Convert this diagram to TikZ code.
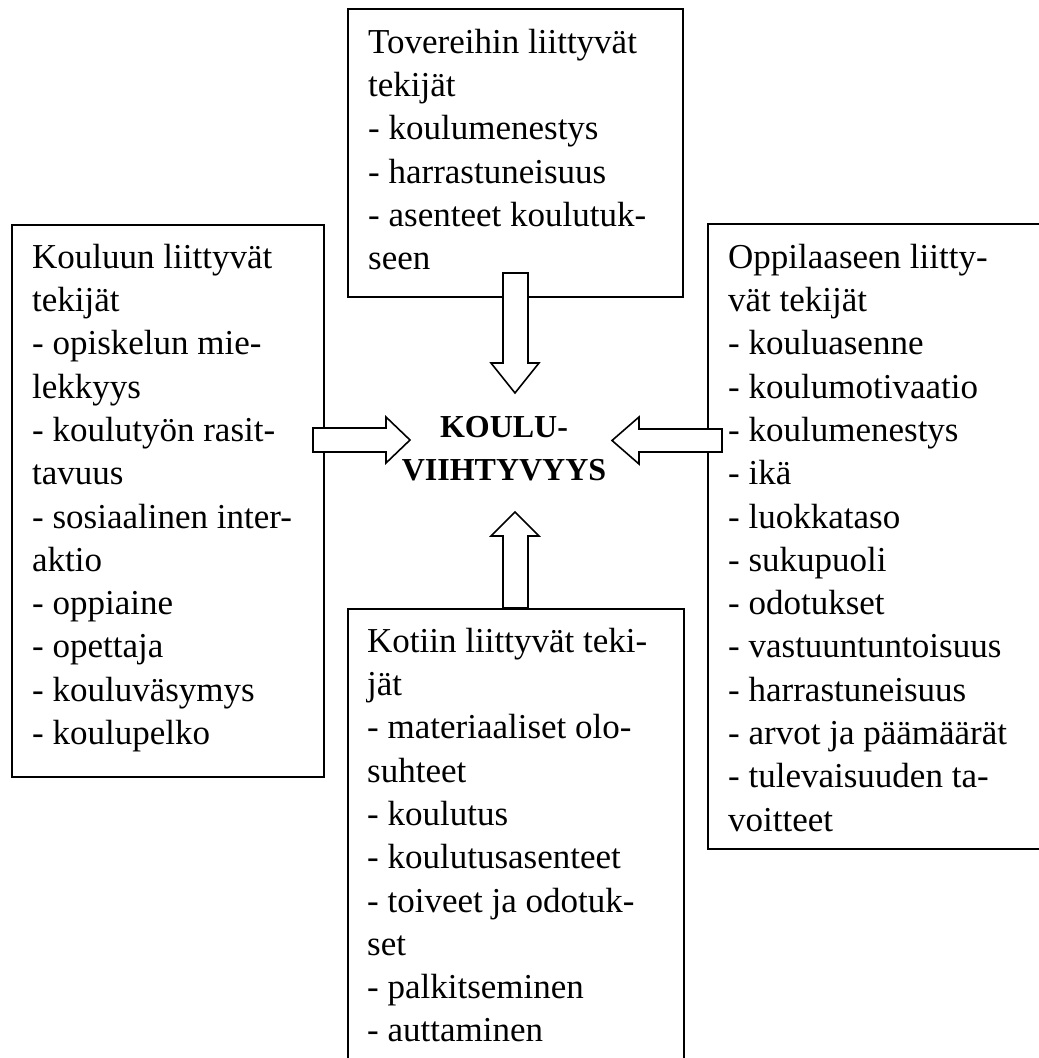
\documentclass[tikz,border=0pt]{standalone}
\usepackage{fontspec}
\setmainfont{Liberation Serif}
\newcommand\bodyfont{\fontsize{35pt}{43.3pt}\selectfont}
\newcommand\centerfont{\fontsize{32pt}{43pt}\selectfont\bfseries}
\begin{document}
\begin{tikzpicture}[x=1pt,y=-1pt,
  box/.style={draw, line width=1.8pt, inner sep=0pt, anchor=north west},
  txt/.style={anchor=north west, align=left, inner sep=0pt, font=\bodyfont},
  blockarrow/.style={draw, fill=white, line width=1.6pt, line join=miter}]
\useasboundingbox (0,0) rectangle (1039,1058);
\clip (0,0) rectangle (1039,1058);
% boxes
\node[box, minimum width=335pt, minimum height=288pt] (topbox) at (347,8) {};
\node[box, minimum width=312pt, minimum height=552pt] (leftbox) at (11,224) {};
\node[box, minimum width=338pt, minimum height=625pt] (rightbox) at (707,223) {};
\node[box, minimum width=336pt, minimum height=460pt] (bottombox) at (347,608) {};
% texts
\node[txt] (toptxt) at (368,22.7) {\strut Tovereihin liittyvät\\tekijät\\- koulumenestys\\- harrastuneisuus\\- asenteet koulutuk-\\seen};
\node[txt] (lefttxt) at (32,237.7) {\strut Kouluun liittyvät\\tekijät\\- opiskelun mie-\\lekkyys\\- koulutyön rasit-\\tavuus\\- sosiaalinen inter-\\aktio\\- oppiaine\\- opettaja\\- kouluväsymys\\- koulupelko};
\node[txt] (righttxt) at (728,237.7) {\strut Oppilaaseen liitty-\\vät tekijät\\- kouluasenne\\- koulumotivaatio\\- koulumenestys\\- ikä\\- luokkataso\\- sukupuoli\\- odotukset\\- vastuuntuntoisuus\\- harrastuneisuus\\- arvot ja päämäärät\\- tulevaisuuden ta-\\voitteet};
\node[txt] (bottomtxt) at (367,621.7) {\strut Kotiin liittyvät teki-\\jät\\- materiaaliset olo-\\suhteet\\- koulutus\\- koulutusasenteet\\- toiveet ja odotuk-\\set\\- palkitseminen\\- auttaminen};
% centre
\node[anchor=north, align=center, inner sep=0pt, font=\centerfont] (centre) at (504,406.9) {\strut KOULU-\\VIIHTYVYYS};
% block arrows
\draw[blockarrow] (503,273) -- (528,273) -- (528,363) -- (539,363) -- (515,393) -- (491,363) -- (503,363) -- cycle;
\draw[blockarrow] (503,608) -- (503,536) -- (491,536) -- (515,512) -- (539,536) -- (528,536) -- (528,608) -- cycle;
\draw[blockarrow] (313,428) -- (386,428) -- (386,417) -- (410,440) -- (386,463) -- (386,452) -- (313,452) -- cycle;
\draw[blockarrow] (722,429) -- (639,429) -- (639,417) -- (612,440.5) -- (639,464) -- (639,452) -- (722,452) -- cycle;
\end{tikzpicture}
\end{document}
